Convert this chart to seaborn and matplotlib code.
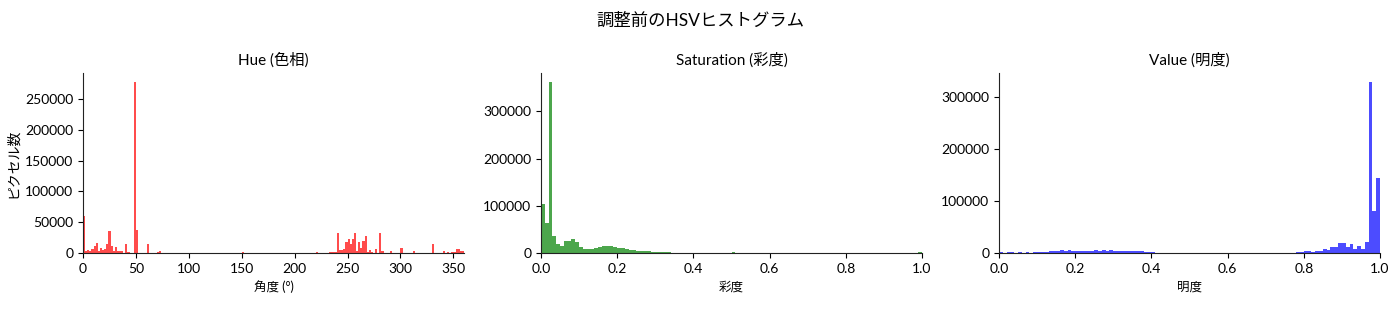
import numpy as np
import pandas as pd
import matplotlib
matplotlib.use("Agg")
import matplotlib.pyplot as plt
import seaborn as sns

# ---------------- data ----------------
# Hue: 2-degree bins, start of bin (deg) and pixel counts (non-empty bins)
hue_bin_start = [0, 2, 4, 6, 8, 10, 12, 14, 16, 18, 20, 22, 24, 26, 28, 30, 32, 34, 36, 38,
                 40, 42, 48, 50, 60, 70, 72, 150, 220, 228, 230, 232, 234, 236, 238,
                 240, 242, 244, 246, 248, 250, 252, 254, 256, 258, 260, 262, 264, 266,
                 268, 270, 272, 276, 280, 282, 284, 290, 300, 312, 320, 330, 340, 344,
                 348, 350, 352, 354, 356, 358]
hue_counts = [60000, 3500, 5000, 3000, 6500, 11500, 17000, 3500, 8000, 5500, 6000, 14000,
              36000, 11500, 3000, 10000, 3500, 3000, 3500, 500,
              15000, 2000, 278000, 37000, 14000, 1000, 3500, 2000, 1000, 800, 800, 1000,
              1500, 2000, 2000,
              33000, 5000, 5000, 6000, 18000, 23000, 14000, 23000, 33000, 3000, 18000,
              8000, 20000, 28000,
              1500, 5000, 2000, 7000, 32000, 3000, 500, 2700, 8000, 3300, 500, 15000,
              3300, 1600, 1600, 1600, 6000, 6000, 2700, 2700]

# Saturation: 100 bins over 0..1
sat_counts = [104000, 64000, 363000, 35000, 20000, 15500, 26000, 26000, 30000, 24000,
              12000, 9000, 9000, 9000, 11000, 13500, 15000, 15000, 14000, 12000,
              10500, 10000, 8500, 7000, 6000, 5000, 4500, 4000, 3500, 3000,
              2800, 2200, 1500, 2500, 900, 800, 700, 600, 500, 400,
              400, 300, 300, 300, 300, 300, 300, 300, 300, 300,
              3000, 250, 250, 250, 250, 250, 250, 250, 250, 250,
              250, 250, 100, 100, 100, 100, 100, 100, 100, 100,
              100, 100, 100, 100, 100, 100, 100, 100, 100, 100,
              100, 100, 100, 100, 100, 100, 100, 100, 100, 100,
              100, 100, 100, 100, 100, 100, 100, 100, 100, 2500]

# Value: 100 bins over 0..1
val_counts = [1000, 500, 1000, 2000, 700, 2000, 700, 2000, 500, 2500,
              2500, 2500, 2500, 3000, 3500, 4000, 5500, 4500, 5500, 4500,
              4500, 4500, 3000, 4500, 4500, 5500, 4500, 5500, 4500, 5500,
              4500, 3000, 4000, 3000, 4000, 3000, 4500, 3000, 2500, 1500,
              2000, 800, 500, 500, 500, 500, 500, 500, 500, 500,
              500, 300, 300, 300, 300, 300, 300, 300, 300, 300,
              300, 300, 300, 300, 300, 300, 300, 300, 300, 300,
              300, 300, 300, 300, 300, 300, 300, 300, 2000, 2000,
              4000, 4000, 2000, 4000, 3000, 8000, 6000, 11500, 11500, 19000,
              19000, 12000, 17000, 8000, 13500, 8000, 21000, 330000, 80000, 145000]

suptitle = "調整前のHSVヒストグラム"
titles = ["Hue (色相)", "Saturation (彩度)", "Value (明度)"]
xlabels = ["角度 (°)", "彩度", "明度"]
ylabel = "ピクセル数"
colors = ["red", "green", "blue"]

# ---------------- style ----------------
sns.set_style("ticks")
fam = ["Lato", "Noto Sans CJK JP", "DejaVu Sans"]
plt.rcParams["font.family"] = fam
plt.rcParams["text.color"] = "black"
plt.rcParams["axes.labelcolor"] = "black"
plt.rcParams["xtick.color"] = "black"
plt.rcParams["ytick.color"] = "black"
plt.rcParams["axes.edgecolor"] = "#222222"

fig = plt.figure(figsize=(14, 3.11), dpi=100)
W, H = 1400, 311
lefts = [83, 541, 999]
axes = [fig.add_axes([l / W, 1 - 253 / H, 381 / W, 180 / H]) for l in lefts]

n_unit = len(sat_counts)
unit_centers = (np.arange(n_unit) + 0.5) / n_unit

hue_df = pd.DataFrame({"x": np.array(hue_bin_start) + 1.0, "w": hue_counts})
sat_df = pd.DataFrame({"x": unit_centers, "w": sat_counts})
val_df = pd.DataFrame({"x": unit_centers, "w": val_counts})

dfs = [hue_df, sat_df, val_df]
bin_specs = [dict(binwidth=2, binrange=(0, 360)),
             dict(bins=100, binrange=(0, 1)),
             dict(bins=100, binrange=(0, 1))]
xlims = [(0, 360), (0, 1), (0, 1)]

for ax, df, bs, c, t, xl, lim in zip(axes, dfs, bin_specs, colors, titles, xlabels, xlims):
    sns.histplot(data=df, x="x", weights="w", color=c, alpha=0.7,
                 linewidth=0, ax=ax, **bs)
    ax.set_xlim(*lim)
    ax.set_title(t, fontsize=11, family=fam, color="black")
    ax.set_xlabel(xl, fontsize=9, family=fam)
    ax.set_ylabel("")
    ax.tick_params(labelsize=10)
    sns.despine(ax=ax)

axes[0].set_xticks(np.arange(0, 351, 50))
axes[0].set_ylabel(ylabel, fontsize=10, family=fam)

fig.suptitle(suptitle, fontsize=12.5, y=0.96, family=fam)
fig.savefig("out.png", dpi=100)
